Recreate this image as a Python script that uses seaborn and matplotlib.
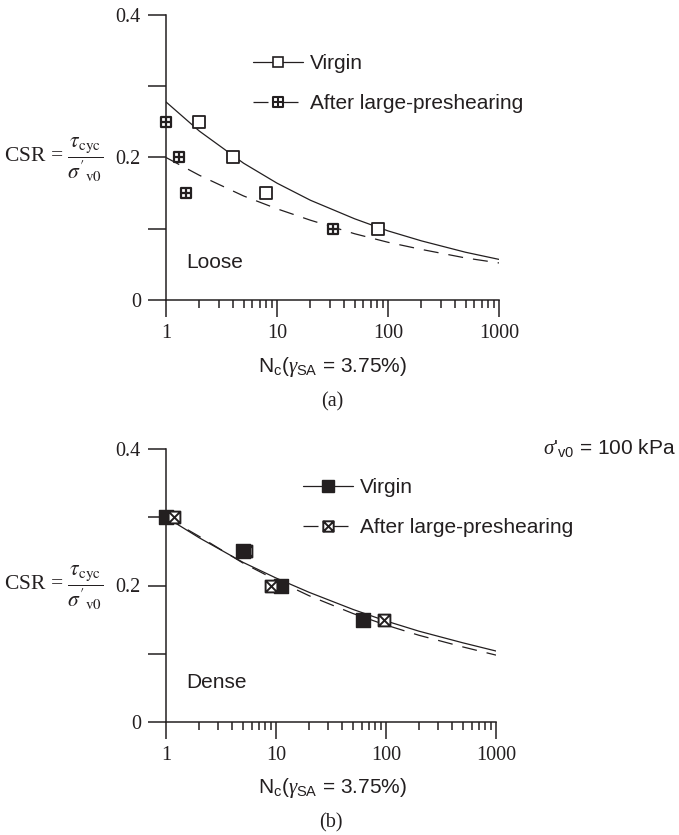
import numpy as np
import matplotlib
matplotlib.use("Agg")
import matplotlib.pyplot as plt
import seaborn as sns
from matplotlib.path import Path
from matplotlib.lines import Line2D
from matplotlib.ticker import LogLocator, NullFormatter

# ---------------- data ----------------
loose_virgin_N = [2.0, 4.0, 8.0, 81.0]
loose_virgin_csr = [0.25, 0.20, 0.15, 0.10]
loose_pre_N = [1.0, 1.3, 1.5, 32.0]
loose_pre_csr = [0.25, 0.20, 0.15, 0.10]

dense_virgin_N = [1.0, 5.0, 11.0, 62.0]
dense_virgin_csr = [0.30, 0.25, 0.20, 0.15]
dense_pre_N = [1.18, 5.3, 9.0, 96.0]
dense_pre_csr = [0.30, 0.25, 0.20, 0.15]
dense_pre_on_top = [True, False, True, True]

curve_N = [1, 2, 5, 10, 20, 50, 100, 200, 500, 1000]
loose_virgin_fit = [0.278, 0.237, 0.192, 0.164, 0.140, 0.114, 0.097, 0.083, 0.067, 0.057]
loose_pre_fit = [0.200, 0.175, 0.146, 0.128, 0.112, 0.093, 0.081, 0.071, 0.059, 0.052]
dense_virgin_fit = [0.300, 0.270, 0.234, 0.211, 0.190, 0.165, 0.148, 0.133, 0.116, 0.104]
dense_pre_fit = [0.300, 0.272, 0.233, 0.208, 0.185, 0.159, 0.142, 0.127, 0.110, 0.098]

x_ticks = [1, 10, 100, 1000]
x_ticklabels = ["1", "10", "100", "1000"]
y_ticks = [0, 0.1, 0.2, 0.3, 0.4]
y_ticklabels = ["0", "", "0.2", "", "0.4"]

# ---------------- style ----------------
sns.set_style("ticks")
plt.rcParams["font.family"] = ["Liberation Sans", "DejaVu Sans"]
plt.rcParams["mathtext.fontset"] = "custom"
plt.rcParams["mathtext.rm"] = "Liberation Sans"
plt.rcParams["mathtext.it"] = "Liberation Serif:italic"
plt.rcParams["mathtext.bf"] = "Liberation Sans:bold"

INK = "#231f20"
W, H = 679, 835
SERIF = ["Liberation Serif", "DejaVu Serif"]
SANS = ["Liberation Sans", "DejaVu Sans"]

# marker: square with plus / square with cross
box_plus = Path(
    [(-1, -1), (1, -1), (1, 1), (-1, 1), (-1, -1), (0, -1), (0, 1), (-1, 0), (1, 0)],
    [Path.MOVETO, Path.LINETO, Path.LINETO, Path.LINETO, Path.CLOSEPOLY,
     Path.MOVETO, Path.LINETO, Path.MOVETO, Path.LINETO])
box_cross = Path(
    [(-1, -1), (1, -1), (1, 1), (-1, 1), (-1, -1), (-1, -1), (1, 1), (-1, 1), (1, -1)],
    [Path.MOVETO, Path.LINETO, Path.LINETO, Path.LINETO, Path.CLOSEPOLY,
     Path.MOVETO, Path.LINETO, Path.MOVETO, Path.LINETO])

DASH = (0, (12, 8))
LEG_DASH = (0, (12, 12))

fig = plt.figure(figsize=(W / 100, H / 100), dpi=100)
fig.patch.set_facecolor("white")


def fx(px):
    return px / W


def fy(py):
    return 1 - py / H


ax1 = fig.add_axes([fx(166), fy(300), (499 - 166) / W, (300 - 15) / H])
ax2 = fig.add_axes([fx(166), fy(722), (496 - 166) / W, (722 - 449) / H])


def style_ax(ax):
    ax.set_xscale("log")
    ax.set_xlim(1, 1000)
    ax.set_ylim(0, 0.4)
    sns.despine(ax=ax)
    for s in ("left", "bottom"):
        ax.spines[s].set_linewidth(1.1)
        ax.spines[s].set_color(INK)
    ax.set_xticks(x_ticks)
    ax.set_xticklabels(x_ticklabels)
    ax.xaxis.set_minor_locator(LogLocator(base=10, subs=np.arange(2, 10)))
    ax.xaxis.set_minor_formatter(NullFormatter())
    ax.set_yticks(y_ticks)
    ax.set_yticklabels(y_ticklabels)
    ax.tick_params(axis="x", which="major", direction="out", length=12, width=1.1,
                   pad=5, colors=INK)
    ax.tick_params(axis="x", which="minor", direction="out", length=6, width=1.1,
                   colors=INK)
    ax.tick_params(axis="y", which="major", direction="out", length=13, width=1.1,
                   pad=5, colors=INK)
    for lab in ax.get_xticklabels() + ax.get_yticklabels():
        lab.set_fontfamily(SERIF)
        lab.set_fontsize(14.5)
        lab.set_color(INK)
    ax.set_xlabel("")
    ax.set_ylabel("")
    ax.patch.set_alpha(0)


# ---------------- (a) loose ----------------
sns.lineplot(x=curve_N, y=loose_virgin_fit, ax=ax1, color=INK, lw=0.9, zorder=2)
sns.lineplot(x=curve_N, y=loose_pre_fit, ax=ax1, color=INK, lw=0.9,
             linestyle=DASH, zorder=2)
sns.scatterplot(x=loose_virgin_N, y=loose_virgin_csr, ax=ax1, marker="s", s=64,
                color="white", edgecolor=INK, linewidth=1.3, zorder=3, clip_on=False)
sns.scatterplot(x=loose_pre_N, y=loose_pre_csr, ax=ax1, marker=box_plus, s=60,
                color="white", edgecolor=INK, linewidth=1.6, zorder=4, clip_on=False)
style_ax(ax1)

h_v1 = Line2D([], [], color=INK, lw=0.9, marker="s", ms=7, mfc="white", mec=INK, mew=1.2)
h_p1 = Line2D([], [], color=INK, lw=0.9, linestyle=LEG_DASH, marker=box_plus, ms=7,
              mfc="white", mec=INK, mew=1.5)
leg1 = ax1.legend([h_v1, h_p1], ["Virgin", "After large-preshearing"],
                  loc="upper left", bbox_to_anchor=(fx(253), fy(54)),
                  bbox_transform=fig.transFigure, frameon=False, borderpad=0,
                  borderaxespad=0, handlelength=2.4, handletextpad=0.35,
                  labelspacing=1.0, prop={"family": SANS, "size": 15})
for t in leg1.get_texts():
    t.set_color(INK)

ax1.text(fx(186), fy(263), "Loose", transform=fig.transFigure, ha="left", va="center",
         fontsize=15, family=SANS, color=INK)

# ---------------- (b) dense ----------------
sns.lineplot(x=curve_N, y=dense_virgin_fit, ax=ax2, color=INK, lw=0.9, zorder=2)
sns.lineplot(x=curve_N, y=dense_pre_fit, ax=ax2, color=INK, lw=0.9,
             linestyle=DASH, zorder=2)
sns.scatterplot(x=dense_virgin_N, y=dense_virgin_csr, ax=ax2, marker="s", s=90,
                color=INK, edgecolor=INK, linewidth=1.0, zorder=4, clip_on=False)
for n, c, top in zip(dense_pre_N, dense_pre_csr, dense_pre_on_top):
    sns.scatterplot(x=[n], y=[c], ax=ax2, marker=box_cross, s=72, color="white",
                    edgecolor=INK, linewidth=1.4, zorder=5 if top else 3, clip_on=False)
style_ax(ax2)

h_v2 = Line2D([], [], color=INK, lw=0.9, marker="s", ms=8.5, mfc=INK, mec=INK, mew=1.0)
h_p2 = Line2D([], [], color=INK, lw=0.9, linestyle=LEG_DASH, marker=box_cross, ms=7.5,
              mfc="white", mec=INK, mew=1.4)
leg2 = ax2.legend([h_v2, h_p2], ["Virgin", "After large-preshearing"],
                  loc="upper left", bbox_to_anchor=(fx(303), fy(478)),
                  bbox_transform=fig.transFigure, frameon=False, borderpad=0,
                  borderaxespad=0, handlelength=2.4, handletextpad=0.35,
                  labelspacing=1.0, prop={"family": SANS, "size": 15})
for t in leg2.get_texts():
    t.set_color(INK)

ax2.text(fx(186), fy(682), "Dense", transform=fig.transFigure, ha="left", va="center",
         fontsize=15, family=SANS, color=INK)

# ---------------- labels ----------------
ylab = r"CSR = $\dfrac{\tau_{\mathrm{cyc}}}{\sigma'_{\mathrm{v0}}}$"
for yc in (160, 588):
    fig.text(fx(4), fy(yc), ylab, ha="left", va="center", fontsize=15.5, family=SERIF,
             math_fontfamily="stix", color=INK)

xlab = r"N$_{\mathrm{c}}$($\gamma_{\mathrm{SA}}$ = 3.75%)"
for yc in (367, 788):
    fig.text(fx(332), fy(yc), xlab, ha="center", va="center", fontsize=15, family=SANS,
             color=INK)

fig.text(fx(332), fy(402), "(a)", ha="center", va="center", fontsize=14.5,
         family=SERIF, color=INK)
fig.text(fx(331), fy(823), "(b)", ha="center", va="center", fontsize=14.5,
         family=SERIF, color=INK)

fig.text(fx(676), fy(448), r"$\sigma$'$_{\mathrm{v0}}$ = 100 kPa", ha="right",
         va="center", fontsize=15, family=SANS, color=INK)

fig.savefig("out.png", dpi=100, facecolor="white")
